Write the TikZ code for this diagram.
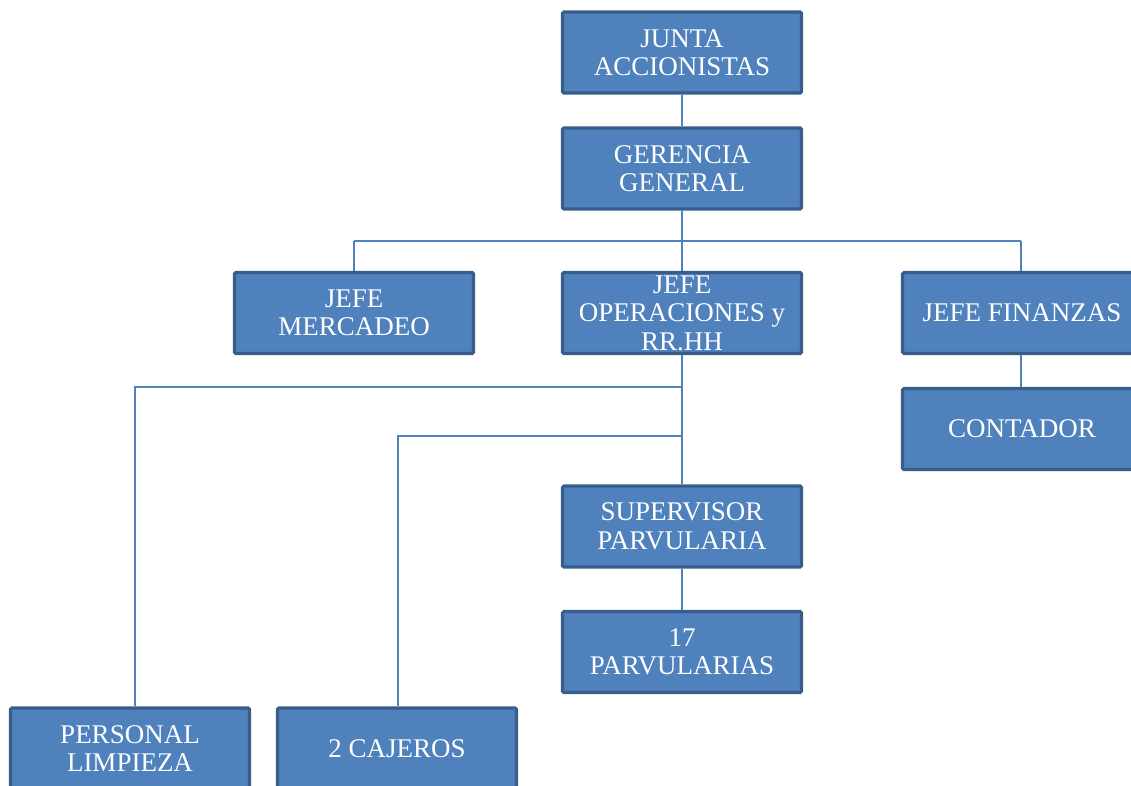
\documentclass[tikz,border=0pt]{standalone}
\usepackage{fontspec}
\setmainfont{Liberation Serif}
\definecolor{boxfill}{HTML}{4F81BD}
\definecolor{boxline}{HTML}{385D8A}
\definecolor{linkcol}{HTML}{4F81BD}
\begin{document}
\begin{tikzpicture}[x=1pt,y=-1pt,
  orgbox/.style={draw=boxline, line width=3.2pt, fill=boxfill, rounded corners=1.5pt,
    minimum width=239pt, minimum height=81pt, inner sep=0pt,
    text=white, align=center,
    font=\fontsize{27}{28.5}\selectfont},
  link/.style={draw=linkcol, line width=1.8pt}]
  \useasboundingbox (0,0) rectangle (1131,786);
  \clip (0,0) rectangle (1131,786);

  % branching points of the connectors
  \coordinate (hub1l) at (354,241);
  \coordinate (hub1m) at (682,241);
  \coordinate (hub1r) at (1021,241);
  \coordinate (limA) at (682,387);
  \coordinate (limB) at (135,387);
  \coordinate (cajA) at (682,436);
  \coordinate (cajB) at (398,436);

  % boxes
  \node[orgbox] (junta) at (682,52.5) {JUNTA\\ACCIONISTAS};
  \node[orgbox] (ger) at (682,168.5) {GERENCIA\\GENERAL};
  \node[orgbox] (merc) at (354,313) {JEFE\\MERCADEO};
  \node[orgbox] (ops) at (682,313) {JEFE\\OPERACIONES y\\RR.HH};
  \node[orgbox] (fin) at (1022,313) {JEFE FINANZAS};
  \node[orgbox] (cont) at (1022,429) {CONTADOR};
  \node[orgbox] (sup) at (682,526.5) {SUPERVISOR\\PARVULARIA};
  \node[orgbox] (parv) at (682,652) {17\\PARVULARIAS};
  \node[orgbox] (limp) at (130,748.5) {PERSONAL\\LIMPIEZA};
  \node[orgbox] (caj) at (397,748.5) {2 CAJEROS};

  % connectors
  \draw[link] (junta.south) -- (ger.north);
  \draw[link] (ger.south) -- (hub1m);
  \draw[link] (hub1l) -- (hub1r);
  \draw[link] (hub1l) -- (merc.north);
  \draw[link] (hub1m) -- (ops.north);
  \draw[link] (hub1r) -- (fin.north -| hub1r);
  \draw[link] (fin.south -| hub1r) -- (cont.north -| hub1r);
  \draw[link] (ops.south) -- (sup.north);
  \draw[link] (limA) -- (limB) -- (limp.north -| limB);
  \draw[link] (cajA) -- (cajB) -- (caj.north -| cajB);
  \draw[link] (sup.south) -- (parv.north);
\end{tikzpicture}
\end{document}
